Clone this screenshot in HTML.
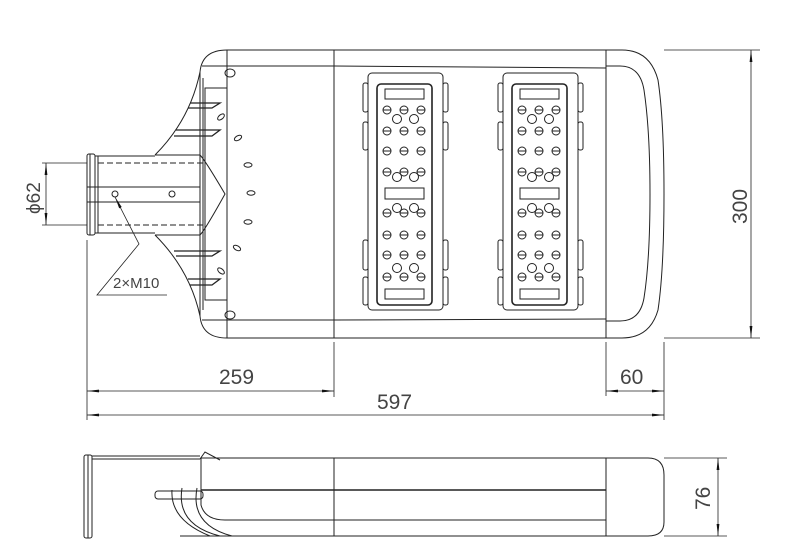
<!DOCTYPE html>
<html><head><meta charset="utf-8"><style>html,body{margin:0;padding:0;background:#fff}svg{display:block}</style></head>
<body>
<svg width="800" height="554" viewBox="0 0 800 554" xmlns="http://www.w3.org/2000/svg" font-family="Liberation Sans, sans-serif">
<defs>
<marker id="a" viewBox="0 0 12 4" refX="12" refY="2" markerWidth="12" markerHeight="4" orient="auto-start-reverse" markerUnits="userSpaceOnUse"><path d="M0,0.6 L12,2 L0,3.4z" fill="#111"/></marker>
<g id="c3"><circle cx="19" cy="0" r="4"/><circle cx="36" cy="0" r="4"/><circle cx="53" cy="0" r="4"/><path d="M15,0h8M32,0h8M49,0h8"/></g>
<g id="mod" fill="none" stroke="#222" stroke-width="1">
<rect x="0" y="0" width="75" height="237" rx="4"/>
<rect x="-5" y="10" width="5" height="29" rx="2"/><rect x="-5" y="49" width="5" height="28" rx="2"/>
<rect x="-5" y="167" width="5" height="30" rx="2"/><rect x="-5" y="204" width="5" height="28" rx="2"/>
<rect x="75" y="10" width="5" height="29" rx="2"/><rect x="75" y="49" width="5" height="28" rx="2"/>
<rect x="75" y="167" width="5" height="30" rx="2"/><rect x="75" y="204" width="5" height="28" rx="2"/>
<rect x="9" y="11" width="55" height="221" rx="4" stroke-width="1.6"/>
<rect x="17" y="16" width="39" height="10"/><rect x="17" y="115" width="39" height="11"/><rect x="17" y="216" width="39" height="10"/>
<use href="#c3" y="37"/><use href="#c3" y="58"/><use href="#c3" y="78"/><use href="#c3" y="99"/>
<use href="#c3" y="140"/><use href="#c3" y="162"/><use href="#c3" y="182"/><use href="#c3" y="204"/>
<circle cx="29" cy="46" r="4.5"/><circle cx="46" cy="46" r="4.5"/>
<circle cx="29" cy="104" r="4.5"/><circle cx="46" cy="104" r="4.5"/>
<circle cx="29" cy="135" r="4.5"/><circle cx="46" cy="135" r="4.5"/>
<circle cx="29" cy="195" r="4.5"/><circle cx="46" cy="195" r="4.5"/>
</g>
</defs>
<g fill="none" stroke="#222" stroke-width="1">
<path d="M227,50 H606 M227,338 H606"/>
<path d="M227,50 Q202,50 200,72 M227,338 Q202,338 200,316"/>
<path d="M227,50 V338 M334,50 V338 M606,50 V338"/>
<path d="M202,66 H334 L606,68 M202,320 H334 L606,319"/>
<path d="M606,50 H622 Q650,50 658,80 Q664,120 664,194 Q664,270 658,310 Q650,338 622,338 H606"/>
<path d="M606,66 H620 Q640,66 644,90 Q650,130 650,194 Q650,260 644,298 Q640,321 620,321 H606"/>
<ellipse cx="230" cy="73" rx="5" ry="4"/><ellipse cx="230" cy="315" rx="5" ry="4"/>
<rect x="205" y="88" width="22" height="212"/>
<path d="M200,72 V316 M203,78 V310"/>
<path d="M200,72 Q190,120 155,155 M200,316 Q190,270 155,235"/>
<path d="M155,155 H200 Q205,160 225,194 Q205,230 200,235 H155"/>
<g stroke-width="1.3"><path d="M190,103 H220 L212,108 H188 M176,130 H220 L212,136 H174 M174,251 H220 L212,256 H176 M188,279 H220 L212,285 H190"/></g>
<g transform="rotate(-40 221 117)"><ellipse cx="221" cy="117" rx="4" ry="2.2"/></g>
<g transform="rotate(-30 238 138)"><ellipse cx="238" cy="138" rx="4" ry="2.2"/></g>
<ellipse cx="248" cy="165" rx="4" ry="2.2"/><ellipse cx="251" cy="193" rx="4" ry="2.2"/><ellipse cx="248" cy="222" rx="4" ry="2.2"/>
<g transform="rotate(30 237 248)"><ellipse cx="237" cy="248" rx="4" ry="2.2"/></g>
<g transform="rotate(40 221 271)"><ellipse cx="221" cy="271" rx="4" ry="2.2"/></g>
<rect x="87" y="154" width="8" height="81" rx="2"/><path d="M90,154V235M95,156H155M95,233H155M98,156V233"/>
<path d="M98,163 H203 M98,225 H203 M203,163 V225" stroke-dasharray="6,3"/>
<path d="M87,187 H200 M87,202 H200"/>
<circle cx="115" cy="194" r="3"/><circle cx="172" cy="194" r="3"/>
<use href="#mod" x="368" y="73"/><use href="#mod" x="503" y="73"/>
<g stroke-width="0.8">
<path d="M664,50 H760 M664,338 H760"/><path d="M751,50 V338" marker-start="url(#a)" marker-end="url(#a)"/>
<path d="M87,240 V420 M334,342 V397 M606,342 V396 M664,342 V420"/>
<path d="M87,391 H334" marker-start="url(#a)" marker-end="url(#a)"/>
<path d="M87,415 H664" marker-start="url(#a)" marker-end="url(#a)"/>
<path d="M606,391 H664" marker-start="url(#a)" marker-end="url(#a)"/>
<path d="M42,163 H87 M42,225 H87"/><path d="M46,163 V225" marker-start="url(#a)" marker-end="url(#a)"/>
<path d="M115,197 L139,244 L97,295 H167" marker-start="url(#a)"/>
<path d="M664,458 H727 M664,536 H727"/><path d="M718,458 V536" marker-start="url(#a)" marker-end="url(#a)"/>
</g>
<rect x="84" y="455" width="8" height="83" rx="2"/><path d="M88,455V538"/>
<path d="M92,456 H200 M92,459 H200 M200,459 L205,452 L220,460"/>
<path d="M201,458 H606 M201,458 V490"/>
<path d="M201,490 H606" stroke-width="1.6"/>
<path d="M201,490 V505 Q205,520 225,520 H606 M180,536 H606 M334,458 V536 M606,458 V536"/>
<path d="M606,458 H648 Q664,458 664,475 V522 Q664,536 648,536 H606"/>
<rect x="155" y="491" width="48" height="8" rx="3"/>
<path d="M182,488 Q176,525 220,536 M197,488 Q190,525 232,536 M172,490 Q170,520 210,536"/>
</g>
<g fill="#444" font-size="21">
<text x="219" y="384">259</text>
<text x="377" y="409">597</text>
<text x="620" y="384">60</text>
<text transform="translate(747,224) rotate(-90)">300</text>
<text transform="translate(710,510) rotate(-90)">76</text>
<text transform="translate(40,214) rotate(-90)" font-size="19">ϕ62</text>
<text x="113" y="288" font-size="15">2×M10</text>
</g>
</svg>
</body></html>
